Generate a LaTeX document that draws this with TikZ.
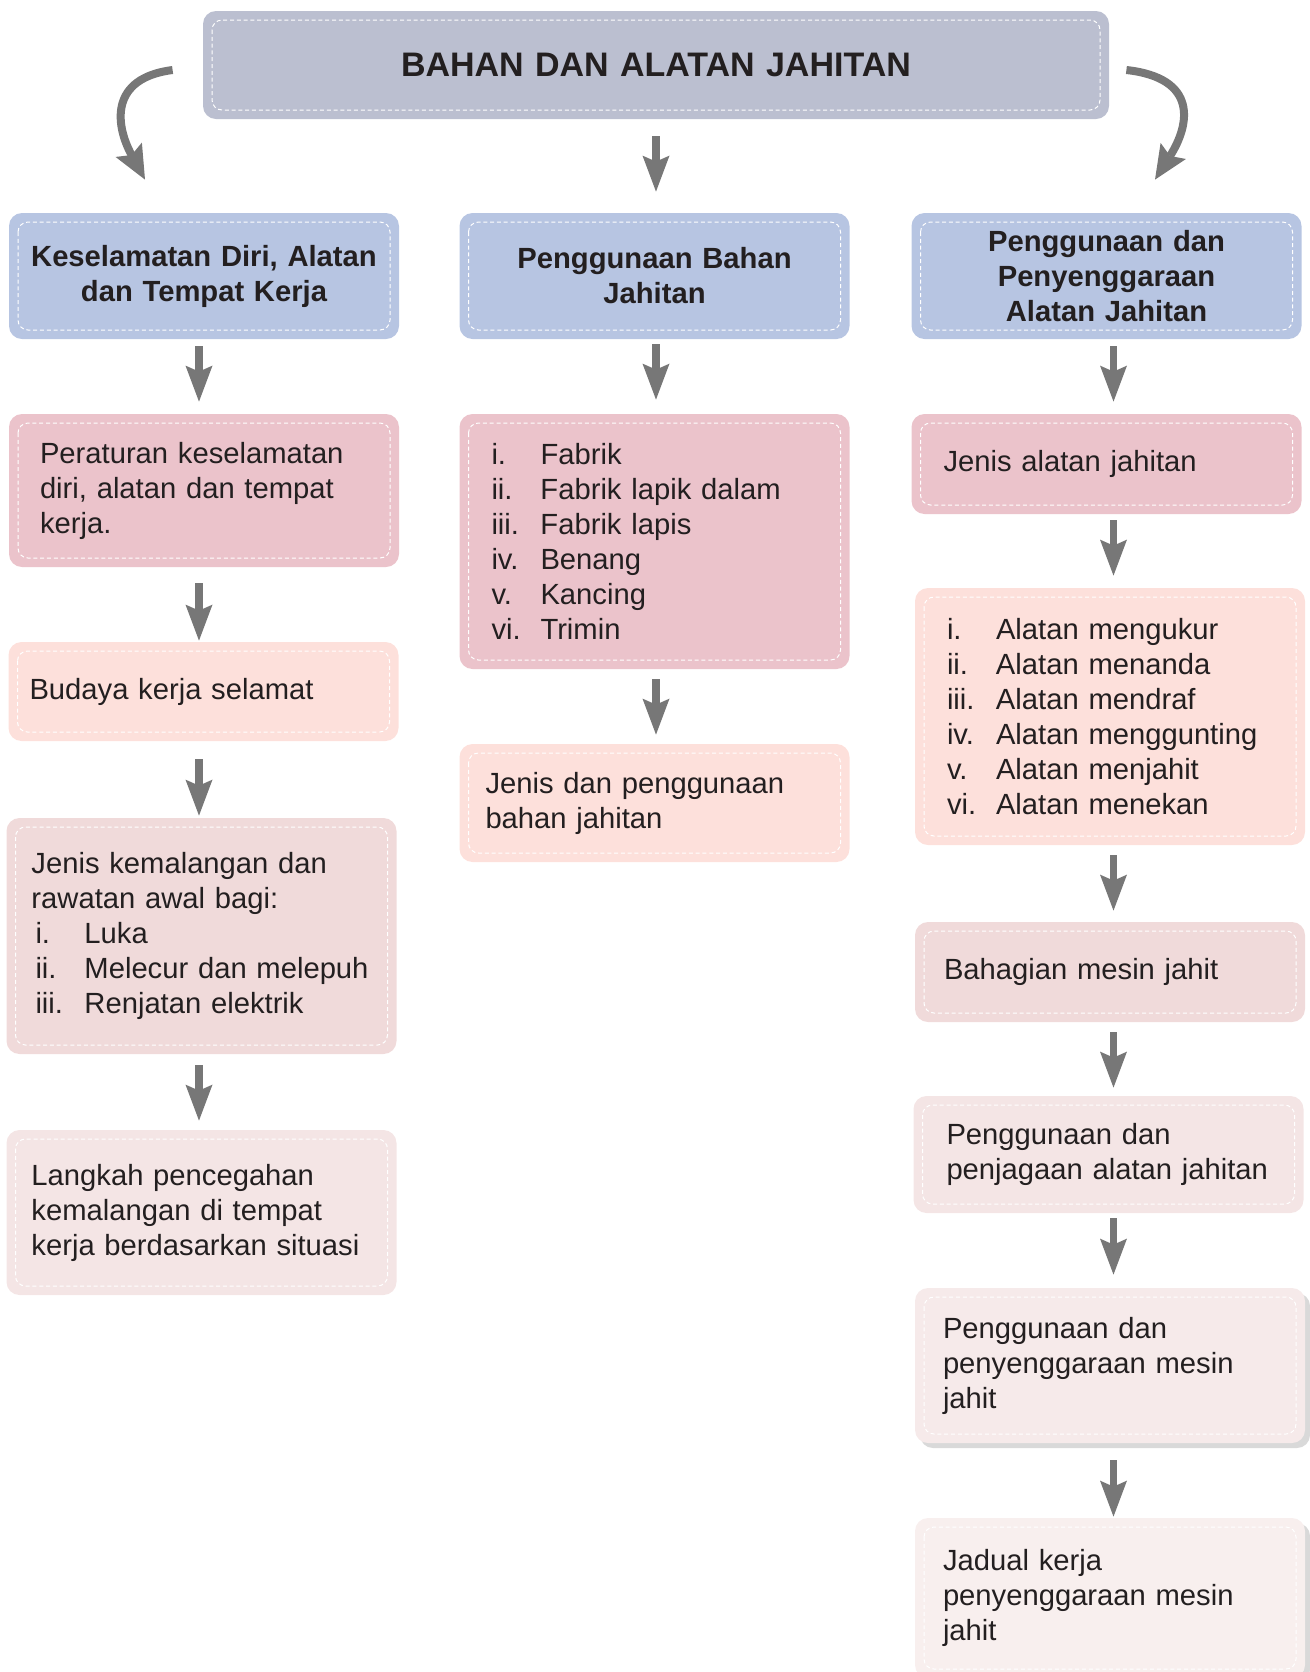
\documentclass[tikz,border=0pt]{standalone}
\usepackage{fontspec}
\setmainfont{Liberation Sans}
\usetikzlibrary{arrows.meta,shadows}
\definecolor{ink}{HTML}{231F20}
\definecolor{titlefill}{HTML}{BBBFD0}
\definecolor{headfill}{HTML}{B7C5E2}
\definecolor{rosefill}{HTML}{EBC3CB}
\definecolor{peachfill}{HTML}{FDE0DB}
\definecolor{blushfill}{HTML}{F0DADA}
\definecolor{palefill}{HTML}{F4E5E5}
\definecolor{mistfill}{HTML}{F6EAEA}
\definecolor{snowfill}{HTML}{F8EFEE}
\definecolor{arrowgray}{HTML}{777777}
\newcommand\numlbl[1]{\makebox[24.5pt][l]{#1}}
\tikzset{
  card/.style={rounded corners=6.5pt, minimum width=195pt, inner xsep=14pt, inner ysep=0pt,
    text width=167pt, align=left, text=ink, font=\fontsize{14.6pt}{17.5pt}\selectfont,
    path picture={\draw[white,line width=.5pt,dash pattern=on 2pt off 1.4pt,rounded corners=5pt]
      ([shift={(4.5pt,-4.5pt)}]path picture bounding box.north west) rectangle
      ([shift={(-4.5pt,4.5pt)}]path picture bounding box.south east);}},
  head/.style={card, fill=headfill, align=center, inner xsep=10pt, text width=175pt,
    minimum height=63pt, font=\fontsize{14.6pt}{17.5pt}\selectfont\bfseries},
  lifted/.style={drop shadow={shadow xshift=2.5pt,shadow yshift=-2.5pt,fill=black!15,opacity=1}},
  flow/.style={arrowgray, line width=3.8pt,
    -{Stealth[length=18pt,width=13.5pt,inset=3pt,line width=0pt]}},
  swing/.style={arrowgray, line width=4pt,
    -{Stealth[length=17pt,width=15pt,inset=3pt,line width=0pt]}},
}
\begin{document}
\begin{tikzpicture}[x=0.5pt,y=-0.5pt]
  \useasboundingbox (0,0) rectangle (1310,1672);
  \clip (0,0) rectangle (1310,1672);
  \node[card,fill=titlefill,align=center,minimum width=453pt,text width=420pt,minimum height=54pt,
    font=\fontsize{17pt}{20pt}\selectfont\bfseries] (title) at (656,65) {BAHAN DAN ALATAN JAHITAN};
  % three headings
  \node[head] (kes) at (204,276) {Keselamatan Diri, Alatan\\dan Tempat Kerja};
  \node[head] (bahan) at (654.5,276) {Penggunaan Bahan\\Jahitan};
  \node[head] (alat) at (1106.5,276) {Penggunaan dan\\Penyenggaraan\\Alatan Jahitan};
  % left column
  \node[card,fill=rosefill,minimum height=76.5pt,inner xsep=15.5pt,text width=164pt] (peraturan)
    at (204,490.5) {Peraturan keselamatan\\diri, alatan dan tempat\\kerja.};
  \node[card,fill=peachfill,minimum height=49.5pt,inner xsep=10.5pt,text width=174pt] (budaya)
    at (203.5,691.5) {Budaya kerja selamat};
  \node[card,fill=blushfill,minimum height=118pt,inner xsep=12.5pt,text width=170pt] (kemalangan)
    at (201.5,936) {Jenis kemalangan dan\\rawatan awal bagi:\\
      \hspace*{2pt}\numlbl{i.}Luka\\\hspace*{2pt}\numlbl{ii.}Melecur dan melepuh\\
      \hspace*{2pt}\numlbl{iii.}Renjatan elektrik};
  \node[card,fill=palefill,minimum height=82.5pt,inner xsep=12.5pt,text width=170pt] (langkah)
    at (201.5,1212.5) {Langkah pencegahan\\kemalangan di tempat\\kerja berdasarkan situasi};
  % middle column
  \node[card,fill=rosefill,minimum height=127.5pt,inner xsep=16pt,text width=163pt] (jenisbahan)
    at (654.5,541.5) {\numlbl{i.}Fabrik\\\numlbl{ii.}Fabrik lapik dalam\\\numlbl{iii.}Fabrik lapis\\
      \numlbl{iv.}Benang\\\numlbl{v.}Kancing\\\numlbl{vi.}Trimin};
  \node[card,fill=peachfill,minimum height=59pt,inner xsep=13pt,text width=169pt] (guna)
    at (654.5,803) {Jenis dan penggunaan\\bahan jahitan};
  % right column
  \node[card,fill=rosefill,minimum height=50pt,inner xsep=16pt,text width=163pt] (jenisalat)
    at (1106.5,464) {Jenis alatan jahitan};
  \node[card,fill=peachfill,minimum height=128.5pt,inner xsep=16pt,text width=163pt] (senarai)
    at (1110,716.5) {\numlbl{i.}Alatan mengukur\\\numlbl{ii.}Alatan menanda\\\numlbl{iii.}Alatan mendraf\\
      \numlbl{iv.}Alatan menggunting\\\numlbl{v.}Alatan menjahit\\\numlbl{vi.}Alatan menekan};
  \node[card,fill=blushfill,minimum height=50pt,inner xsep=14.5pt,text width=166pt] (bahagian)
    at (1110,972) {Bahagian mesin jahit};
  \node[card,fill=palefill,minimum height=58.5pt,inner xsep=16.5pt,text width=162pt] (jaga)
    at (1108.5,1154.5) {Penggunaan dan\\penjagaan alatan jahitan};
  \node[card,lifted,fill=mistfill,minimum height=77.5pt] (selenggara)
    at (1110,1365.5) {Penggunaan dan\\penyenggaraan mesin\\jahit};
  \node[card,lifted,fill=snowfill,minimum height=80pt] (jadual)
    at (1110,1598) {Jadual kerja\\penyenggaraan mesin\\jahit};
  % arrows
  \draw[swing] ([xshift=-15pt,yshift=-2.5pt]title.west) .. controls +(-63,8) and +(-30,-55)
    .. ([xshift=-29.5pt,yshift=16.5pt]kes.north);
  \draw[swing] ([xshift=8.5pt,yshift=-2.5pt]title.east) .. controls +(72,8) and +(35,-55)
    .. ([xshift=24.25pt,yshift=16.5pt]alat.north);
  \foreach \a/\b/\s/\e/\d in {title/bahan/8.5/10.5/0, kes/peraturan/3.5/6/-2.5,
      peraturan/budaya/8/0.5/-2.5, budaya/kemalangan/9/1/-2.25, kemalangan/langkah/5.5/4.5/-1.25,
      bahan/jenisbahan/2.5/7/0.75, jenisbahan/guna/5/4.5/0.75, alat/jenisalat/3.5/6/3.5,
      jenisalat/senarai/3/6/3.5, senarai/bahagian/5/5.5/1.75, bahagian/jaga/5/4/1.75,
      jaga/selenggara/2.5/6.5/2.5, selenggara/jadual/8.5/0.5/1.75}
    \draw[flow,shorten <=\s pt,shorten >=\e pt] ([xshift=\d pt]\a.south) -- ([xshift=\d pt]\a.south |- \b.north);
\end{tikzpicture}
\end{document}
